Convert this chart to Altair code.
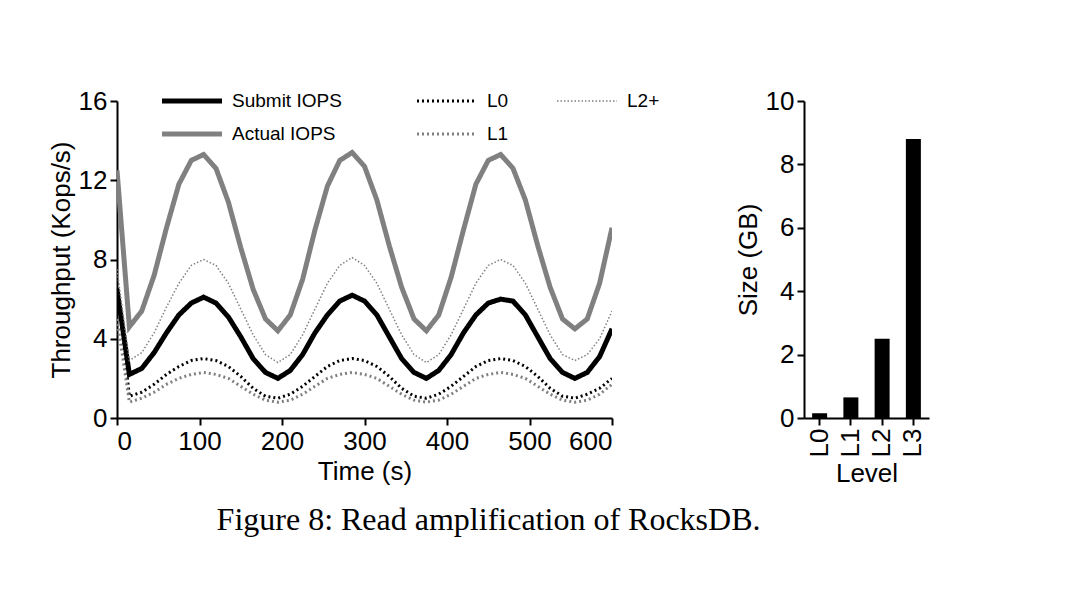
import pandas as pd
import altair as alt

# time axis, seconds
time_s = list(range(0, 601, 15))

submit_iops = [6.5, 2.2, 2.5, 3.3, 4.3, 5.2, 5.8, 6.1, 5.8, 5.1, 4.1, 3.0, 2.3, 2.0,
               2.4, 3.2, 4.3, 5.2, 5.9, 6.2, 5.9, 5.2, 4.1, 3.0, 2.3, 2.0, 2.4, 3.2,
               4.3, 5.2, 5.8, 6.0, 5.9, 5.2, 4.1, 3.0, 2.3, 2.0, 2.3, 3.1, 4.5]
actual_iops = [12.5, 4.6, 5.4, 7.2, 9.6, 11.8, 13.0, 13.3, 12.6, 10.9, 8.6, 6.5, 5.0, 4.4,
               5.2, 7.0, 9.5, 11.7, 13.0, 13.4, 12.7, 11.0, 8.7, 6.6, 5.0, 4.4, 5.2, 7.1,
               9.5, 11.8, 13.0, 13.3, 12.6, 11.0, 8.7, 6.6, 5.0, 4.5, 5.0, 6.8, 9.6]
l0_iops = [6.8, 1.1, 1.3, 1.7, 2.2, 2.6, 2.9, 3.0, 2.9, 2.6, 2.1, 1.5, 1.1, 1.0,
           1.2, 1.6, 2.1, 2.6, 2.9, 3.0, 2.9, 2.6, 2.1, 1.5, 1.1, 1.0, 1.2, 1.6,
           2.1, 2.6, 2.9, 3.0, 2.9, 2.6, 2.1, 1.5, 1.1, 1.0, 1.2, 1.5, 2.0]
l1_iops = [5.0, 0.8, 1.0, 1.3, 1.7, 2.0, 2.2, 2.3, 2.2, 2.0, 1.6, 1.2, 0.9, 0.8,
           0.9, 1.2, 1.6, 2.0, 2.2, 2.3, 2.2, 2.0, 1.6, 1.2, 0.9, 0.8, 0.9, 1.2,
           1.6, 2.0, 2.2, 2.3, 2.2, 2.0, 1.6, 1.2, 0.9, 0.8, 0.9, 1.2, 1.7]
l2p_iops = [7.5, 2.9, 3.3, 4.3, 5.6, 6.8, 7.7, 8.0, 7.7, 6.8, 5.5, 4.2, 3.2, 2.8,
            3.2, 4.2, 5.5, 6.8, 7.7, 8.1, 7.7, 6.8, 5.5, 4.2, 3.2, 2.8, 3.2, 4.2,
            5.5, 6.8, 7.7, 8.0, 7.7, 6.8, 5.5, 4.2, 3.2, 2.9, 3.2, 4.0, 5.4]

levels = ["L0", "L1", "L2", "L3"]
level_size_gb = [0.15, 0.65, 2.5, 8.8]

series_names = ["Submit IOPS", "Actual IOPS", "L0", "L1", "L2+"]
series_vals = [submit_iops, actual_iops, l0_iops, l1_iops, l2p_iops]
series_color = ["black", "#808080", "black", "#808080", "#808080"]
series_width = [5, 5, 3, 3, 1.5]
series_dash = [[1, 0], [1, 0], [2, 3], [2, 3], [1.5, 2]]

FONT = "Liberation Sans"

layers = []
for name, vals, col, w, d in zip(series_names, series_vals, series_color, series_width, series_dash):
    df = pd.DataFrame({"t": time_s, "v": vals})
    layers.append(alt.Chart(df).mark_line(color=col, strokeWidth=w, strokeDash=d, clip=True).encode(
        x=alt.X("t:Q", scale=alt.Scale(domain=[0, 600], nice=False),
                axis=alt.Axis(title="Time (s)", values=[0, 100, 200, 300, 400, 500, 600], grid=False)),
        y=alt.Y("v:Q", scale=alt.Scale(domain=[0, 16]),
                axis=alt.Axis(title="Throughput (Kops/s)", values=[0, 4, 8, 12, 16], grid=False)),
    ))

# hand-made legend (2 rows, 3 columns)
leg = pd.DataFrame({
    "name": series_names,
    "lx": [45, 45, 300, 300, 440],
    "ly": [0, 33, 0, 33, 0],
})
for i, name in enumerate(series_names):
    row = leg.iloc[[i]]
    layers.append(alt.Chart(row).mark_rule(color=series_color[i], strokeWidth=series_width[i],
                                           strokeDash=series_dash[i]).encode(
        x=alt.X("lx:Q", scale=None), x2=alt.X2("x2:Q"), y=alt.Y("ly:Q", scale=None)
    ).transform_calculate(x2="datum.lx + 60"))
layers.append(alt.Chart(leg).mark_text(align="left", baseline="middle", font=FONT, fontSize=19).encode(
    x=alt.X("tx:Q", scale=None), y=alt.Y("ly:Q", scale=None), text="name:N"
).transform_calculate(tx="datum.lx + 70"))

left = alt.layer(*layers).properties(width=495, height=317)

bars = alt.Chart(pd.DataFrame({"level": levels, "size": level_size_gb})).mark_bar(
    color="black", width=15).encode(
    x=alt.X("level:N", sort=levels, scale=alt.Scale(paddingInner=0.5),
            axis=alt.Axis(title="Level", labelAngle=270, labelAlign="right", labelBaseline="middle")),
    y=alt.Y("size:Q", scale=alt.Scale(domain=[0, 10]),
            axis=alt.Axis(title="Size (GB)", values=[0, 2, 4, 6, 8, 10], grid=False)),
).properties(width=125, height=317)

chart = alt.hconcat(left, bars, spacing=75).properties(
    padding={"left": 40, "top": 80, "right": 10, "bottom": 10},
    title=alt.TitleParams("Figure 8: Read amplification of RocksDB.", orient="bottom",
                          font="Liberation Serif", fontSize=32, fontWeight="normal",
                          color="black", offset=18, anchor="middle"),
).configure_view(stroke=None).configure_axis(
    labelFont=FONT, titleFont=FONT, labelFontSize=26, titleFontSize=26,
    labelColor="black", titleColor="black", domainColor="black", tickColor="black",
    domainWidth=2, tickWidth=2, tickSize=7, titleFontWeight="normal", labelPadding=3
)

chart.save("out.html", embed_options={"renderer": "svg", "actions": False})
